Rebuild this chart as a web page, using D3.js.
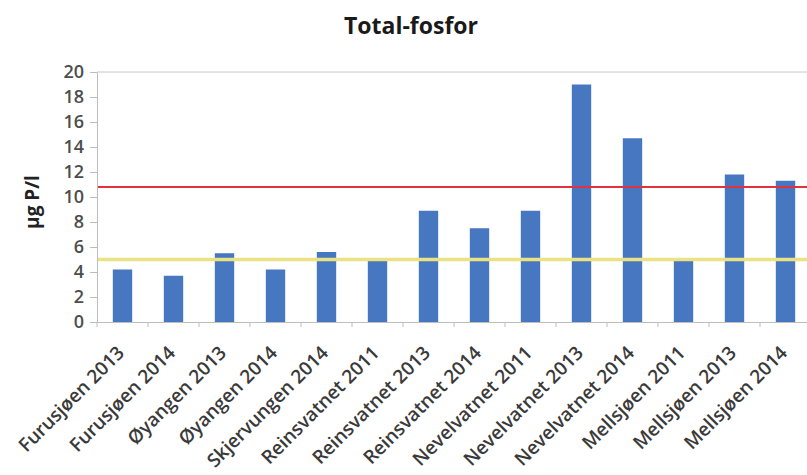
<!DOCTYPE html>
<html>
<head>
<meta charset="utf-8">
<script src="https://cdn.jsdelivr.net/npm/d3@7"></script>
<style>
  html, body { margin: 0; padding: 0; background: #fff; }
  svg { display: block; }
</style>
</head>
<body>
<svg id="chart" width="807" height="475"></svg>
<script>
// Total phosphorus per lake and year (µg P/l)
const categories = [
  "Furusjøen 2013", "Furusjøen 2014", "Øyangen 2013", "Øyangen 2014",
  "Skjervungen 2014", "Reinsvatnet 2011", "Reinsvatnet 2013", "Reinsvatnet 2014",
  "Nevelvatnet 2011", "Nevelvatnet 2013", "Nevelvatnet 2014",
  "Mellsjøen 2011", "Mellsjøen 2013", "Mellsjøen 2014"
];
const values = [4.2, 3.7, 5.5, 4.2, 5.6, 5.0, 8.9, 7.5, 8.9, 19.0, 14.7, 5.0, 11.8, 11.3];
const yTicks = [0, 2, 4, 6, 8, 10, 12, 14, 16, 18, 20];
// Class boundaries drawn as reference lines
const limitGood = 5;        // yellow line
const limitModerate = 10.8; // red line

const font = "'Open Sans', Lato, sans-serif";
const svg = d3.select("#chart");
const margin = { left: 97, top: 72, bottom: 153 };
const plotH = 475 - margin.top - margin.bottom;
const bandW = 51;
const plotW = bandW * categories.length;

const x = d3.scaleBand().domain(categories).range([margin.left, margin.left + plotW]).paddingInner(0.62).paddingOuter(0.31);
const y = d3.scaleLinear().domain([0, 20]).range([margin.top + plotH, margin.top]);

// title
svg.append("text")
  .attr("x", 411).attr("y", 34)
  .attr("text-anchor", "middle")
  .attr("font-family", font).attr("font-weight", "bold").attr("font-size", 23)
  .attr("fill", "#1a1a1a")
  .text("Total-fosfor");

// top border line at 20
svg.append("line")
  .attr("x1", margin.left).attr("x2", margin.left + plotW)
  .attr("y1", y(20)).attr("y2", y(20))
  .attr("stroke", "#c8c8c8").attr("stroke-width", 1);

// bars
svg.append("g").selectAll("rect").data(values).join("rect")
  .attr("x", (d, i) => x(categories[i]))
  .attr("width", x.bandwidth())
  .attr("y", d => y(d))
  .attr("height", d => y(0) - y(d))
  .attr("fill", "#4677c0");

// reference lines
svg.append("line")
  .attr("x1", margin.left).attr("x2", margin.left + plotW)
  .attr("y1", y(limitGood)).attr("y2", y(limitGood))
  .attr("stroke", "#ebe283").attr("stroke-width", 3.5);
svg.append("line")
  .attr("x1", margin.left).attr("x2", margin.left + plotW)
  .attr("y1", y(limitModerate)).attr("y2", y(limitModerate))
  .attr("stroke", "#e0323f").attr("stroke-width", 2);

// y axis
const yAxis = svg.append("g")
  .attr("transform", `translate(${margin.left},0)`)
  .call(d3.axisLeft(y).tickValues(yTicks).tickSize(7).tickPadding(6));
yAxis.select(".domain").attr("stroke", "#bdbdbd");
yAxis.selectAll(".tick line").attr("stroke", "#bdbdbd");
yAxis.selectAll(".tick text")
  .attr("font-family", font).attr("font-size", 18).attr("font-weight", 600).attr("fill", "#4d4d4d");

// x axis
const xAxis = svg.append("g")
  .attr("transform", `translate(0,${y(0)})`)
  .call(d3.axisBottom(x).tickSize(0).tickPadding(0));
xAxis.select(".domain").attr("stroke", "#bdbdbd");
xAxis.selectAll(".tick text")
  .attr("font-family", font).attr("font-size", 19).attr("font-weight", 600).attr("fill", "#3a3a3a")
  .attr("text-anchor", "end")
  .attr("dy", 0)
  .attr("transform", "translate(3,32) rotate(-45)");
// tick marks between categories
svg.append("g").selectAll("line")
  .data(d3.range(categories.length + 1))
  .join("line")
  .attr("x1", i => margin.left + i * bandW).attr("x2", i => margin.left + i * bandW)
  .attr("y1", y(0)).attr("y2", y(0) + 5)
  .attr("stroke", "#bdbdbd");

// y axis title
svg.append("text")
  .attr("transform", `translate(39,${y(9.6)}) rotate(-90)`)
  .attr("text-anchor", "middle")
  .attr("font-family", font).attr("font-weight", "bold").attr("font-size", 19)
  .attr("fill", "#222")
  .text("µg P/l");
</script>
</body>
</html>
